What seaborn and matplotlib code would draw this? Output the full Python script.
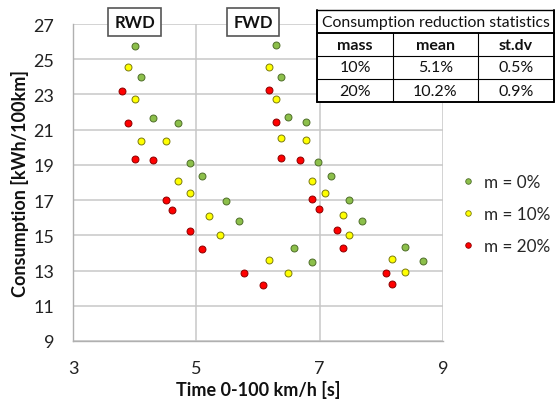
import numpy as np
import pandas as pd
import matplotlib
matplotlib.use("Agg")
import matplotlib.pyplot as plt
import seaborn as sns
from matplotlib.lines import Line2D

# --- data (RWD group first, FWD group second) ---
time_0 = [4.0, 4.1, 4.3, 4.7, 4.9, 5.1, 5.48, 5.69, 6.59, 6.88,
          6.29, 6.38, 6.48, 6.78, 6.98, 7.18, 7.48, 7.68, 8.38, 8.68]
cons_0 = [25.77, 23.97, 21.66, 21.37, 19.09, 18.35, 16.94, 15.79, 14.27, 13.50,
          25.83, 24.0, 21.70, 21.41, 19.14, 18.38, 16.98, 15.79, 14.33, 13.53]
time_10 = [3.9, 4.0, 4.1, 4.5, 4.7, 4.9, 5.2, 5.39, 6.18, 6.48,
           6.18, 6.29, 6.38, 6.78, 6.88, 7.08, 7.38, 7.48, 8.18, 8.38]
cons_10 = [24.54, 22.74, 20.37, 20.37, 18.08, 17.40, 16.11, 15.03, 13.59, 12.85,
           24.54, 22.74, 20.50, 20.41, 18.08, 17.40, 16.15, 15.01, 13.63, 12.89]
time_20 = [3.8, 3.9, 4.0, 4.3, 4.5, 4.6, 4.9, 5.1, 5.78, 6.08,
           6.18, 6.29, 6.38, 6.68, 6.88, 6.99, 7.28, 7.38, 8.08, 8.18]
cons_20 = [23.21, 21.37, 19.33, 19.26, 17.02, 16.45, 15.26, 14.22, 12.85, 12.19,
           23.25, 21.41, 19.37, 19.26, 17.06, 16.49, 15.30, 14.26, 12.85, 12.21]

series_labels = ["m = 0%", "m = 10%", "m = 20%"]
x_ticks = [3, 5, 7, 9]
y_ticks = [9, 11, 13, 15, 17, 19, 21, 23, 25, 27]

table_title = "Consumption reduction statistics"
table_header = ["mass", "mean", "st.dv"]
table_rows = [["10%", "5.1%", "0.5%"],
              ["20%", "10.2%", "0.9%"]]

group_labels = ["RWD", "FWD"]
group_x = [4.0, 5.92]

fills = {"m = 0%": "#8CBF4A", "m = 10%": "#FFFF00", "m = 20%": "#FF0000"}
edges = {"m = 0%": "#4F6E2A", "m = 10%": "#7A7A10", "m = 20%": "#8B0000"}

df = pd.concat([
    pd.DataFrame({"time": time_0, "cons": cons_0, "mass": series_labels[0]}),
    pd.DataFrame({"time": time_10, "cons": cons_10, "mass": series_labels[1]}),
    pd.DataFrame({"time": time_20, "cons": cons_20, "mass": series_labels[2]}),
], ignore_index=True)

sns.set_theme(style="white")
plt.rcParams['font.family'] = ['Lato', 'DejaVu Sans']

W, H = 555, 406
fig = plt.figure(figsize=(W / 100, H / 100), dpi=100)
ax = fig.add_axes([73 / W, (H - 342) / H, 370 / W, 317 / H])

for lab in series_labels:
    sub = df[df["mass"] == lab]
    sns.scatterplot(data=sub, x="time", y="cons", ax=ax, color=fills[lab],
                    edgecolor=edges[lab], linewidth=0.7, s=25, legend=False,
                    zorder=3)

ax.set_xlim(3, 9)
ax.set_ylim(9, 27)
ax.set_xticks(x_ticks)
ax.set_yticks(y_ticks)
ax.grid(True, color="#C8C8C8", linewidth=1.1)
ax.set_axisbelow(True)
for side in ["top", "right"]:
    ax.spines[side].set_visible(False)
for side in ["left", "bottom"]:
    ax.spines[side].set_color("#B0B0B0")
    ax.spines[side].set_linewidth(1.0)
ax.tick_params(axis="both", direction="out", length=4.5, width=1.0,
               color="#B0B0B0", labelsize=13, labelcolor="#222222")
ax.tick_params(axis="y", pad=9)
ax.tick_params(axis="x", pad=9)
ax.set_xlabel("Time 0-100 km/h [s]", fontsize=13, fontweight="bold",
              color="#111111", labelpad=3)
ax.set_ylabel("Consumption [kWh/100km]", fontsize=13, fontweight="bold",
              color="#111111", labelpad=3)

# group boxes
for gx, gl in zip(group_x, group_labels):
    ax.text(gx, 27.1, gl, ha="center", va="center", fontsize=12,
            fontweight="bold", color="#111111", zorder=5, clip_on=False,
            bbox=dict(boxstyle="square,pad=0.35", fc="white", ec="#555555", lw=1.2))

# legend
handles = [Line2D([], [], marker="o", linestyle="", markersize=4.0,
                  markerfacecolor=fills[l], markeredgecolor=edges[l],
                  markeredgewidth=0.6) for l in series_labels]
fig.legend(handles, series_labels, loc="upper left",
           bbox_to_anchor=(462 / W, 1 - 175 / H), frameon=False, borderpad=0,
           borderaxespad=0, fontsize=12.3, labelspacing=0.95,
           handlelength=0.7, handletextpad=0.6)

# statistics table (drawn in pixel coordinates)
def px(x, y):
    return x / W, 1 - y / H

tl, tr = 317, 554
ty = [11, 34, 57, 80, 103]
cols = [317, 393, 478, 554]
fig.patches.append(plt.Rectangle(px(tl, ty[-1]), (tr - tl) / W, (ty[-1] - ty[0]) / H,
                                 transform=fig.transFigure, fc="white",
                                 ec="none", zorder=4))
def hline(y, lw):
    fig.add_artist(Line2D([tl / W, tr / W], [1 - y / H, 1 - y / H],
                          color="black", lw=lw, zorder=5))
def vline(x, y0, y1, lw):
    fig.add_artist(Line2D([x / W, x / W], [1 - y0 / H, 1 - y1 / H],
                          color="black", lw=lw, zorder=5))
hline(ty[0], 1.0)
hline(ty[1], 1.4)
hline(ty[2], 0.8)
hline(ty[3], 0.8)
hline(ty[4], 1.4)
vline(tl, ty[0], ty[4], 1.4)
vline(tr, ty[0], ty[4], 1.4)
vline(cols[1], ty[1], ty[4], 0.8)
vline(cols[2], ty[1], ty[4], 0.8)

fig.text(*px((tl + tr) / 2, (ty[0] + ty[1]) / 2), table_title, ha="center",
         va="center", fontsize=11.3, color="#111111", zorder=6)
for j, h in enumerate(table_header):
    fig.text(*px((cols[j] + cols[j + 1]) / 2, (ty[1] + ty[2]) / 2), h,
             ha="center", va="center", fontsize=11.5, fontweight="bold",
             color="#111111", zorder=6)
for i, row in enumerate(table_rows):
    for j, v in enumerate(row):
        fig.text(*px((cols[j] + cols[j + 1]) / 2, (ty[i + 2] + ty[i + 3]) / 2), v,
                 ha="center", va="center", fontsize=11.5, color="#111111",
                 zorder=6)

fig.savefig("out.png", dpi=100, facecolor="white")
